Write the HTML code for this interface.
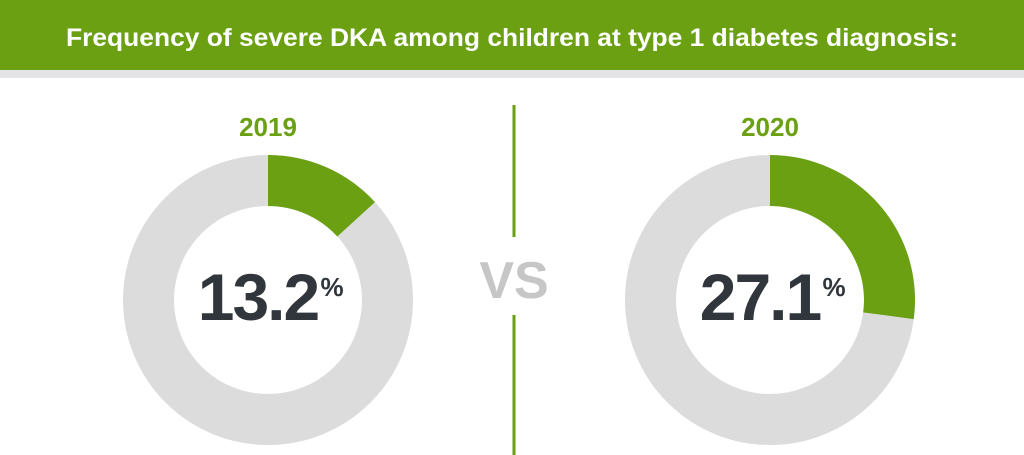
<!DOCTYPE html>
<html><head><meta charset="utf-8"><style>
html,body{margin:0;padding:0;background:#fff;}
svg{display:block;font-family:"Liberation Sans",Arial,sans-serif;}
</style></head><body>
<svg id="chart" width="1024" height="455" viewBox="0 0 1024 455">
  <rect x="0" y="70" width="1024" height="8" fill="#e4e4e6"/>
  <rect x="0" y="0" width="1024" height="70" fill="#6aa012"/>
  <text x="512" y="46" text-anchor="middle" font-size="25" font-weight="bold" fill="#fff" textLength="892" lengthAdjust="spacingAndGlyphs">Frequency of severe DKA among children at type 1 diabetes diagnosis:</text>
  <rect x="512.5" y="105" width="3" height="132" fill="#6aa012"/>
  <rect x="512.5" y="315" width="3" height="140" fill="#6aa012"/>
  <text x="514" y="298" text-anchor="middle" font-size="52" font-weight="bold" fill="#c6c6c6">VS</text>
  <g id="donuts"></g>
</svg>
<script>
const years = ["2019", "2020"];
const percents = [13.2, 27.1];
const centersX = [268, 770];
const cy = 300, R = 145, r = 94;
const ns = "http://www.w3.org/2000/svg";
const g = document.getElementById("donuts");
function pt(rad, frac){ const a = frac*2*Math.PI; return [Math.sin(a)*rad, -Math.cos(a)*rad]; }
years.forEach((yr, i) => {
  const cx = centersX[i], f = percents[i]/100;
  const bg = document.createElementNS(ns, "circle");
  
  
  bg.setAttribute("cx", cx); bg.setAttribute("cy", cy); bg.setAttribute("r", (R + r) / 2);
  bg.setAttribute("fill", "none"); bg.setAttribute("stroke", "#dcdcdc"); bg.setAttribute("stroke-width", R - r);
  g.appendChild(bg);
  const [x1, y1] = pt(R, 0), [x2, y2] = pt(R, f), [x3, y3] = pt(r, f), [x4, y4] = pt(r, 0);
  const large = f > 0.5 ? 1 : 0;
  const p = document.createElementNS(ns, "path");
  
  
  p.setAttribute("d", `M${cx+x1},${cy+y1} A${R},${R} 0 ${large} 1 ${cx+x2},${cy+y2} L${cx+x3},${cy+y3} A${r},${r} 0 ${large} 0 ${cx+x4},${cy+y4} Z`);
  p.setAttribute("fill", "#6aa012");
  g.appendChild(p);
  const lab = document.createElementNS(ns, "text");
  
  
  lab.setAttribute("x", cx); lab.setAttribute("y", 136); lab.setAttribute("text-anchor", "middle");
  lab.setAttribute("font-size", "26"); lab.setAttribute("font-weight", "bold"); lab.setAttribute("fill", "#6aa012");
  lab.textContent = yr; g.appendChild(lab);
  const val = document.createElementNS(ns, "text");
  
  
  val.setAttribute("x", cx - 10); val.setAttribute("y", 320); val.setAttribute("text-anchor", "middle");
  val.setAttribute("font-size", "66"); val.setAttribute("font-weight", "bold"); val.setAttribute("fill", "#30363b");
  val.setAttribute("letter-spacing", "-2");
  val.textContent = percents[i].toFixed(1); g.appendChild(val);
  const pc = document.createElementNS(ns, "text");
  
  
  pc.setAttribute("x", cx + 64); pc.setAttribute("y", 296); pc.setAttribute("text-anchor", "middle");
  pc.setAttribute("font-size", "26"); pc.setAttribute("font-weight", "bold"); pc.setAttribute("fill", "#30363b");
  pc.textContent = "%"; g.appendChild(pc);
});
</script>
</body></html>
